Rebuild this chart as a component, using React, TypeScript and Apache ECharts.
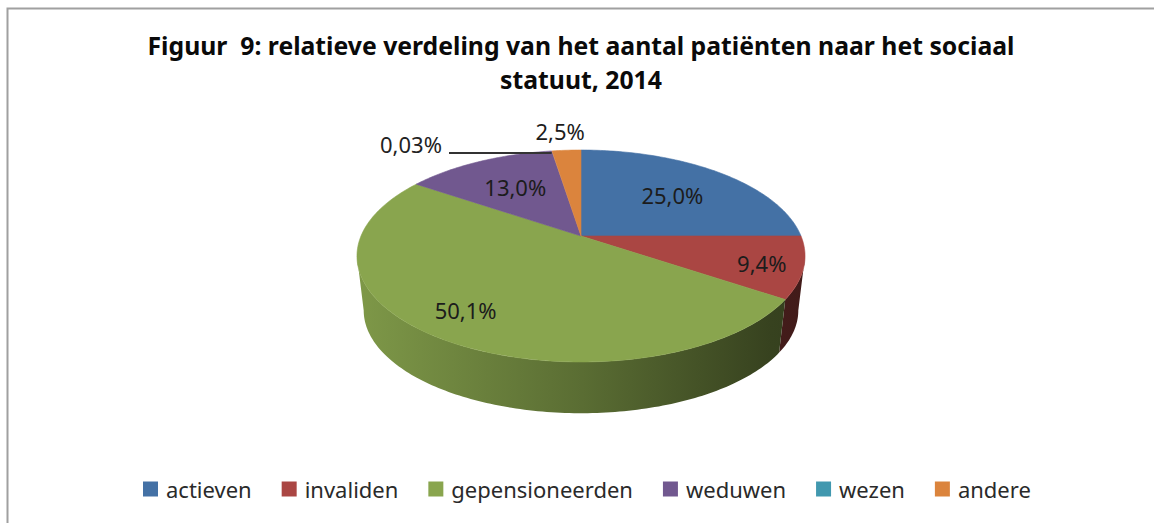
import React, { useEffect, useRef } from "react";
import * as echarts from "echarts";

const categories = ["actieven", "invaliden", "gepensioneerden", "weduwen", "wezen", "andere"];
const shares = [25.0, 9.4, 50.1, 13.0, 0.03, 2.5];
const shareLabels = ["25,0%", "9,4%", "50,1%", "13,0%", "0,03%", "2,5%"];
const sliceColors = ["#4471a5", "#aa4643", "#89a54e", "#71588f", "#4198af", "#db843d"];
const titleText = "Figuur  9: relatieve verdeling van het aantal patiënten naar het sociaal\nstatuut, 2014";

const FONT = '"Noto Sans", sans-serif';
const CX = 581, CY = 236, BX = 220, BY = 102.2, K = -0.1887;
const DEPTH = 55, FLOOR = 0.97;
const RIM_RIGHT = Math.PI / 2 + Math.asin(-K);
const RIM_LEFT = (3 * Math.PI) / 2 - Math.asin(-K);

// label anchors: fraction of radius along the mid-angle, then fine offset in px
const labelPlacement = [
  { r: 0.6, dx: 5, dy: -1 },
  { r: 0.82, dx: 0, dy: 2 },
  { r: 0.62, dx: -31, dy: 16 },
  { r: 0.6, dx: -1, dy: -2 },
  { r: 1, dx: 0, dy: 0 },
  { r: 1.2, dx: -4, dy: -5 },
];

const total = shares.reduce((a, b) => a + b, 0);
const startAngle = (i: number) =>
  (shares.slice(0, i).reduce((a, b) => a + b, 0) / total) * Math.PI * 2;

function project(theta: number, r = 1, floor = false): [number, number] {
  const X = Math.sin(theta) * r;
  const Y = -Math.cos(theta) * r;
  const d = 1 + K * Y;
  const s = floor ? FLOOR : 1;
  return [CX + (s * BX * X) / d, CY + (floor ? DEPTH : 0) + (s * BY * Y) / d];
}

function arc(a: number, b: number, floor = false) {
  const n = Math.max(2, Math.ceil(((b - a) * 180) / Math.PI));
  const pts: [number, number][] = [];
  for (let j = 0; j <= n; j++) pts.push(project(a + ((b - a) * j) / n, 1, floor));
  return pts;
}

function shade(hex: string, f: number) {
  const n = parseInt(hex.slice(1), 16);
  const c = [(n >> 16) & 255, (n >> 8) & 255, n & 255].map((v) => Math.round(v * f));
  return `rgb(${c[0]},${c[1]},${c[2]})`;
}

function renderSlice(i: number) {
  return (_params: any, api: any) => {
    const value = api.value(0);
    const a = startAngle(i);
    const b = a + (value / total) * Math.PI * 2;
    const color = sliceColors[i];
    const children: any[] = [];

    const wa = Math.max(a, RIM_RIGHT);
    const wb = Math.min(b, RIM_LEFT);
    if (wb > wa) {
      children.push({
        type: "polygon",
        z2: 0,
        silent: true,
        shape: { points: [...arc(wa, wb), ...arc(wa, wb, true).reverse()] },
        style: {
          fill: new echarts.graphic.LinearGradient(
            358, 0, 806, 0,
            [
              { offset: 0, color: shade(color, 0.92) },
              { offset: 0.5, color: shade(color, 0.66) },
              { offset: 0.92, color: shade(color, 0.4) },
              { offset: 1, color: shade(color, 0.38) },
            ],
            true
          ),
        },
      });
    }

    if (b - a > 0.002) {
      children.push({
        type: "polygon",
        z2: 1,
        silent: true,
        shape: { points: [[CX, CY], ...arc(a, b)] },
        style: { fill: color, stroke: color, lineWidth: 0.6 },
      });
    }

    const mid = (a + b) / 2;
    const place = labelPlacement[i];
    const [px, py] = project(mid, place.r);
    if (categories[i] === "wezen") {
      const [rx, ry] = project(a);
      children.push({
        type: "polyline",
        z2: 2,
        silent: true,
        shape: { points: [[449, ry + 2], [rx, ry + 2]] },
        style: { stroke: "#333333", lineWidth: 2, fill: "none" },
      });
      children.push({
        type: "text",
        z2: 3,
        silent: true,
        x: 411,
        y: 144,
        style: { text: shareLabels[i], font: `22px ${FONT}`, fill: "#222222", align: "center", verticalAlign: "middle" },
      });
    } else {
      children.push({
        type: "text",
        z2: 3,
        silent: true,
        x: px + place.dx,
        y: py + place.dy,
        style: { text: shareLabels[i], font: `22px ${FONT}`, fill: "#1c1c1c", align: "center", verticalAlign: "middle" },
      });
    }
    return { type: "group", children };
  };
}

export default function App() {
  const ref = useRef<HTMLDivElement>(null);
  useEffect(() => {
    document.body.style.margin = "0";
    const chart = echarts.init(ref.current!, null, { renderer: "svg" });
    chart.setOption({
      animation: false,
      backgroundColor: "#ffffff",
      title: {
        text: titleText,
        left: 581,
        top: 28,
        padding: 0,
        textAlign: "center",
        textStyle: { fontFamily: FONT, fontWeight: "bold", fontSize: 24.75, lineHeight: 34, color: "#0a0a0a" },
      },
      legend: {
        data: categories,
        left: 143,
        top: 478,
        padding: 0,
        icon: "rect",
        itemWidth: 15,
        itemHeight: 15,
        itemGap: 30,
        selectedMode: false,
        textStyle: { fontFamily: FONT, fontSize: 22, color: "#2a2a2a", padding: [0, 0, 0, 3] },
      },
      graphic: [
        {
          type: "rect",
          silent: true,
          shape: { x: 7.5, y: 8.5, width: 1300, height: 700 },
          style: { fill: "none", stroke: "#a0a0a0", lineWidth: 2 },
        },
      ],
      series: categories.map((name, i) => ({
        type: "custom",
        name,
        coordinateSystem: "none",
        silent: true,
        itemStyle: { color: sliceColors[i] },
        data: [[shares[i]]],
        renderItem: renderSlice(i),
      })),
    });
    return () => chart.dispose();
  }, []);
  return <div ref={ref} style={{ position: "absolute", left: 0, top: 0, width: 1154, height: 523 }} />;
}
